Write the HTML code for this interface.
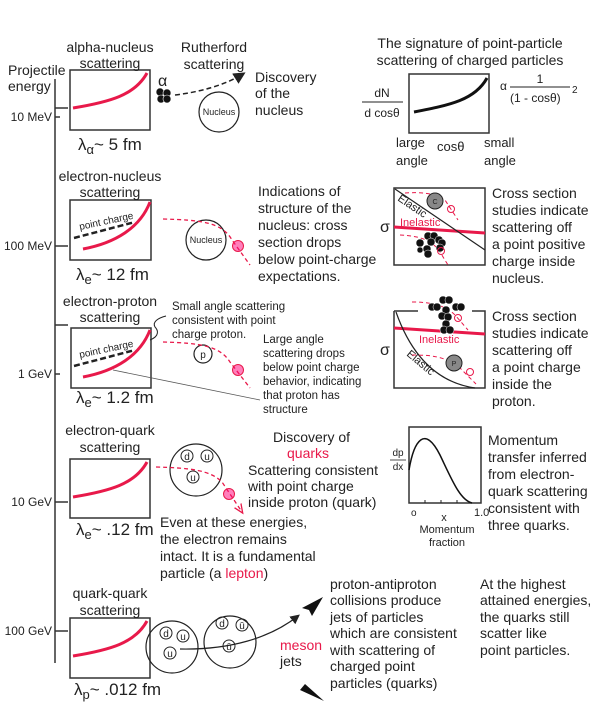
<!DOCTYPE html>
<html><head><meta charset="utf-8"><style>
html,body{margin:0;padding:0;background:#fff}
svg{display:block}
text{font-family:"Liberation Sans",sans-serif;fill:#222}
.t{font-size:14px}
.s{font-size:11.5px}
.r{fill:#e8194a}
</style></head><body>
<svg width="600" height="712" viewBox="0 0 600 712" xmlns="http://www.w3.org/2000/svg">
<defs>
<marker id="ah" markerWidth="8" markerHeight="8" refX="6" refY="4" orient="auto"><path d="M0,0 L8,4 L0,8 Z" fill="#222"/></marker>
<marker id="ahr" markerWidth="8" markerHeight="8" refX="6" refY="4" orient="auto"><path d="M0,1 L7,4 L0,7" fill="none" stroke="#e8194a"/></marker>
</defs>
<g stroke="#333" stroke-width="1.5" fill="none">
<line x1="55" y1="79" x2="55" y2="663"/>
<line x1="55" y1="108" x2="68" y2="108"/><line x1="55" y1="117" x2="60" y2="117"/>
<line x1="55" y1="246" x2="68" y2="246"/>
<line x1="55" y1="325" x2="68" y2="325"/><line x1="55" y1="374" x2="60" y2="374"/>
<line x1="55" y1="502" x2="68" y2="502"/>
<line x1="55" y1="631" x2="68" y2="631"/>
<rect x="70" y="70" width="80" height="60"/>
<rect x="70" y="200" width="81" height="60"/>
<rect x="71" y="328" width="80" height="60"/>
<rect x="70" y="459" width="80" height="59"/>
<rect x="70" y="618" width="80" height="60"/>
<rect x="409" y="74" width="80" height="59"/>
<rect x="394" y="188" width="91" height="77"/>
<path d="M394,311 V388 H485 V311 H472 M394,311 H418"/>
<rect x="409" y="427" width="72" height="76"/>
</g>
<text class="t" x="8" y="75">Projectile</text><text class="t" x="8" y="91">energy</text>
<g text-anchor="end"><text x="52" y="121" style="font-size:12px">10 MeV</text><text x="52" y="250" style="font-size:12px">100 MeV</text><text x="52" y="378" style="font-size:12px">1 GeV</text><text x="52" y="506" style="font-size:12px">10 GeV</text><text x="52" y="635" style="font-size:12px">100 GeV</text></g>
<g stroke="#e8194a" stroke-width="3" fill="none">
<path d="M73,108 C110,102 135,95 147,73"/>
<path d="M83,249 C115,243 140,228 150,202"/>
<path d="M83,377 C115,371 140,356 150,330"/>
<path d="M73,497 C110,491 135,484 147,462"/>
<path d="M73,656 C110,650 135,643 147,621"/>
<line x1="394" y1="227" x2="485" y2="233"/>
<line x1="394" y1="328" x2="485" y2="334"/>
</g>
<g stroke="#222" stroke-width="2.5" fill="none" stroke-dasharray="6,3">
<path d="M74,238 L135,222"/><path d="M74,366 L135,350"/>
</g>
<text x="80" y="230" transform="rotate(-12 80 230)" style="font-size:10px">point charge</text>
<text x="80" y="358" transform="rotate(-12 80 358)" style="font-size:10px">point charge</text>
<path d="M414,112 C450,105 475,100 487,78" stroke="#111" stroke-width="3" fill="none"/>
<g text-anchor="middle"><text x="110" y="52" class="t">alpha-nucleus</text><text x="110" y="68" class="t">scattering</text>
<text x="214" y="52" class="t">Rutherford</text><text x="214" y="69" class="t">scattering</text></g>
<text x="78" y="150" style="font-size:17px">λ<tspan dy="4" font-size="13">α</tspan><tspan dy="-4">~ 5 fm</tspan></text>
<text x="158" y="86" style="font-size:16px">α</text>
<g fill="#111" stroke="#fff" stroke-width="0.6"><circle cx="160" cy="92" r="4"/><circle cx="167" cy="93" r="4"/><circle cx="161" cy="99" r="4"/><circle cx="167" cy="99" r="4"/></g>
<path d="M175,95 C200,92 225,85 243,74" stroke="#222" stroke-width="1.5" stroke-dasharray="5,3" fill="none" marker-end="url(#ah)"/>
<circle cx="219" cy="112" r="20" stroke="#222" stroke-width="1.2" fill="none"/>
<text x="219" y="115" text-anchor="middle" style="font-size:9px">Nucleus</text>
<text class="t" x="255" y="82">Discovery</text><text class="t" x="255" y="98">of the</text><text class="t" x="255" y="115">nucleus</text>
<text class="t" x="470" y="48" text-anchor="middle">The signature of point-particle</text>
<text class="t" x="470" y="65" text-anchor="middle">scattering of charged particles</text>
<text x="382" y="97" text-anchor="middle" style="font-size:12px">dN</text>
<line x1="362" y1="102" x2="403" y2="102" stroke="#222"/>
<text x="382" y="117" text-anchor="middle" style="font-size:12px">d cosθ</text>
<text x="500" y="90" style="font-size:12px">α</text>
<text x="540" y="83" text-anchor="middle" style="font-size:12px">1</text>
<line x1="510" y1="87" x2="570" y2="87" stroke="#222"/>
<text x="510" y="102" style="font-size:12px">(1 - cosθ)</text><text x="572" y="93" style="font-size:10px">2</text>
<text x="396" y="147" style="font-size:13px">large</text><text x="396" y="165" style="font-size:13px">angle</text>
<text x="437" y="151" style="font-size:13px">cosθ</text>
<text x="484" y="147" style="font-size:13px">small</text><text x="484" y="165" style="font-size:13px">angle</text>
<text class="t" x="110" y="181" text-anchor="middle">electron-nucleus</text><text class="t" x="110" y="197" text-anchor="middle">scattering</text>
<text x="76" y="280" style="font-size:17px">λ<tspan dy="4" font-size="13">e</tspan><tspan dy="-4">~ 12 fm</tspan></text>
<circle cx="206" cy="240" r="20" stroke="#222" stroke-width="1.2" fill="none"/>
<text x="206" y="243" text-anchor="middle" style="font-size:9px">Nucleus</text>
<path d="M163,219 C200,220 222,222 232,240 L250,265" stroke="#e8194a" stroke-width="1.3" stroke-dasharray="4,3" fill="none"/>
<circle cx="238" cy="246" r="5.5" fill="#f07" fill-opacity="0.5" stroke="#e8194a"/>
<g><text class="t" x="258" y="196">Indications of</text><text class="t" x="258" y="213">structure of the</text><text class="t" x="258" y="230">nucleus: cross</text><text class="t" x="258" y="247">section drops</text><text class="t" x="258" y="264">below point-charge</text><text class="t" x="258" y="281">expectations.</text></g>
<line x1="395" y1="189" x2="485" y2="250" stroke="#222" stroke-width="1.2"/>
<text x="397" y="200" transform="rotate(34 397 200)" style="font-size:11px">Elastic</text>
<text x="400" y="226" class="r" style="font-size:11px">Inelastic</text>
<text x="380" y="232" style="font-size:16px">σ</text>
<path d="M405,193 C420,192 435,193 445,200 L458,220" stroke="#e8194a" stroke-dasharray="4,3" fill="none"/>
<circle cx="435" cy="201" r="8" fill="#888" stroke="#222"/><text x="435" y="204" text-anchor="middle" style="font-size:7px">C</text>
<circle cx="451" cy="209" r="3.5" fill="none" stroke="#e8194a"/>
<path d="M400,235 C420,236 432,240 440,252 L448,265" stroke="#e8194a" stroke-dasharray="4,3" fill="none"/>
<g fill="#111" stroke="#fff" stroke-width="0.5"><circle cx="428" cy="236" r="4"/><circle cx="434" cy="236" r="4"/><circle cx="439" cy="240" r="4"/><circle cx="442" cy="243" r="4"/><circle cx="420" cy="243" r="4"/><circle cx="431" cy="242" r="4"/><circle cx="427" cy="249" r="4"/><circle cx="428" cy="254" r="4"/><circle cx="420" cy="250" r="3"/><circle cx="440" cy="248" r="4"/></g>
<circle cx="441" cy="251" r="3.5" fill="none" stroke="#e8194a"/>
<g><text class="t" x="492" y="198">Cross section</text><text class="t" x="492" y="215">studies indicate</text><text class="t" x="492" y="232">scattering off</text><text class="t" x="492" y="249">a point positive</text><text class="t" x="492" y="266">charge inside</text><text class="t" x="492" y="283">nucleus.</text></g>
<text class="t" x="110" y="306" text-anchor="middle">electron-proton</text><text class="t" x="110" y="322" text-anchor="middle">scattering</text>
<text x="76" y="403" style="font-size:17px">λ<tspan dy="4" font-size="13">e</tspan><tspan dy="-4">~ 1.2 fm</tspan></text>
<path d="M150,340 C160,336 158,330 155,327 C152,322 158,318 166,316" stroke="#222" fill="none"/>
<text class="s" x="172" y="310">Small angle scattering</text><text class="s" x="172" y="324">consistent with point</text><text class="s" x="172" y="338">charge proton.</text>
<circle cx="203" cy="354" r="9" stroke="#222" stroke-width="1.2" fill="none"/><text x="203" y="358" text-anchor="middle" style="font-size:10px">p</text>
<path d="M163,342 C200,343 220,346 230,362 L250,388" stroke="#e8194a" stroke-width="1.3" stroke-dasharray="4,3" fill="none"/>
<circle cx="238" cy="370" r="5.5" fill="#f07" fill-opacity="0.5" stroke="#e8194a"/>
<line x1="113" y1="370" x2="260" y2="400" stroke="#555" stroke-width="0.8"/>
<text class="s" x="263" y="343">Large angle</text><text class="s" x="263" y="357">scattering drops</text><text class="s" x="263" y="371">below point charge</text><text class="s" x="263" y="385">behavior, indicating</text><text class="s" x="263" y="399">that proton has</text><text class="s" x="263" y="413">structure</text>
<path d="M396,312 Q420,380 475,388" stroke="#222" stroke-width="1.2" fill="none"/>
<text x="419" y="343" class="r" style="font-size:11px">Inelastic</text>
<text x="406" y="355" transform="rotate(40 406 355)" style="font-size:11px">Elastic</text>
<text x="380" y="355" style="font-size:16px">σ</text>
<path d="M412,355 C430,355 445,356 460,368 L476,384" stroke="#e8194a" stroke-dasharray="4,3" fill="none"/>
<circle cx="454" cy="363" r="8" fill="#888" stroke="#222"/><text x="454" y="366" text-anchor="middle" style="font-size:7px">P</text>
<circle cx="470" cy="372" r="3.5" fill="none" stroke="#e8194a"/>
<path d="M412,302 C430,302 445,305 455,315 L468,330" stroke="#e8194a" stroke-dasharray="4,3" fill="none"/>
<g fill="#111" stroke="#fff" stroke-width="0.5"><circle cx="443" cy="300" r="4"/><circle cx="449" cy="300" r="4"/><circle cx="432" cy="307" r="4"/><circle cx="437" cy="307" r="4"/><circle cx="456" cy="307" r="4"/><circle cx="461" cy="307" r="4"/><circle cx="446" cy="310" r="4"/><circle cx="442" cy="316" r="4"/><circle cx="448" cy="317" r="4"/><circle cx="446" cy="324" r="4"/><circle cx="444" cy="330" r="4"/><circle cx="450" cy="330" r="4"/></g>
<circle cx="458" cy="318" r="3.5" fill="none" stroke="#e8194a"/>
<g><text class="t" x="492" y="321">Cross section</text><text class="t" x="492" y="338">studies indicate</text><text class="t" x="492" y="355">scattering off</text><text class="t" x="492" y="372">a point charge</text><text class="t" x="492" y="389">inside the</text><text class="t" x="492" y="406">proton.</text></g>
<text class="t" x="110" y="435" text-anchor="middle">electron-quark</text><text class="t" x="110" y="452" text-anchor="middle">scattering</text>
<text x="76" y="535" style="font-size:17px">λ<tspan dy="4" font-size="13">e</tspan><tspan dy="-4">~ .12 fm</tspan></text>
<circle cx="196" cy="470" r="26" stroke="#222" stroke-width="1.2" fill="none"/>
<g stroke="#222" fill="none"><circle cx="187" cy="456" r="6"/><circle cx="207" cy="456" r="6"/><circle cx="193" cy="477" r="6"/></g>
<g text-anchor="middle"><text x="187" y="460" style="font-size:10px">d</text><text x="207" y="460" style="font-size:10px">u</text><text x="193" y="481" style="font-size:10px">u</text></g>
<path d="M156,467 C190,468 210,470 222,482 L242,512" stroke="#e8194a" stroke-width="1.3" stroke-dasharray="4,3" fill="none" marker-end="url(#ahr)"/>
<circle cx="229" cy="494" r="5.5" fill="#f07" fill-opacity="0.5" stroke="#e8194a"/>
<text class="t" x="273" y="442">Discovery of</text><text class="t" x="287" y="458" style="fill:#e8194a">quarks</text>
<text class="t" x="248" y="475">Scattering consistent</text><text class="t" x="248" y="491">with point charge</text><text class="t" x="248" y="507">inside proton (quark)</text>
<text class="t" x="160" y="527">Even at these energies,</text><text class="t" x="160" y="544">the electron remains</text><text class="t" x="160" y="561">intact. It is a fundamental</text><text class="t" x="160" y="578">particle (a <tspan style="fill:#e8194a">lepton</tspan>)</text>
<path d="M409,470 C414,440 425,425 440,455 C452,480 460,500 472,503" stroke="#111" stroke-width="1.5" fill="none"/>
<g stroke="#222"><line x1="425" y1="503" x2="425" y2="500"/><line x1="441" y1="503" x2="441" y2="500"/><line x1="457" y1="503" x2="457" y2="500"/></g>
<text x="398" y="456" text-anchor="middle" style="font-size:10px">dp</text><line x1="390" y1="460" x2="406" y2="460" stroke="#222" stroke-width="0.8"/><text x="398" y="470" text-anchor="middle" style="font-size:10px">dx</text>
<text x="411" y="516" style="font-size:10px">o</text><text x="474" y="516" style="font-size:11px">1.0</text>
<text x="444" y="521" text-anchor="middle" style="font-size:11px">x</text>
<text x="447" y="533" text-anchor="middle" style="font-size:11px">Momentum</text><text x="447" y="546" text-anchor="middle" style="font-size:11px">fraction</text>
<g><text class="t" x="488" y="445">Momentum</text><text class="t" x="488" y="462">transfer inferred</text><text class="t" x="488" y="479">from electron-</text><text class="t" x="488" y="496">quark scattering</text><text class="t" x="488" y="513">consistent with</text><text class="t" x="488" y="530">three quarks.</text></g>
<text class="t" x="110" y="598" text-anchor="middle">quark-quark</text><text class="t" x="110" y="615" text-anchor="middle">scattering</text>
<text x="74" y="695" style="font-size:17px">λ<tspan dy="4" font-size="13">p</tspan><tspan dy="-4">~ .012 fm</tspan></text>
<circle cx="172" cy="647" r="26" stroke="#222" stroke-width="1.2" fill="none"/>
<circle cx="230" cy="642" r="26" stroke="#222" stroke-width="1.2" fill="none"/>
<g stroke="#222" fill="none"><circle cx="166" cy="633" r="6"/><circle cx="183" cy="636" r="6"/><circle cx="170" cy="653" r="6"/><circle cx="222" cy="623" r="6"/><circle cx="242" cy="625" r="6"/><circle cx="229" cy="646" r="6"/></g>
<g text-anchor="middle"><text x="166" y="637" style="font-size:10px">d</text><text x="183" y="640" style="font-size:10px">u</text><text x="170" y="657" style="font-size:10px">u</text><text x="222" y="627" style="font-size:10px">d</text><text x="242" y="629" style="font-size:10px">ū</text><text x="229" y="650" style="font-size:10px">ū</text></g>
<path d="M180,649 C230,650 270,638 298,616" stroke="#222" stroke-width="1.2" fill="none" marker-end="url(#ah)"/>
<path d="M302,608 L323,597 L312,616 L309,610 Z" fill="#111"/>
<path d="M300,690 L305,684 L324,701 Z" fill="#111"/>
<text class="t" x="280" y="650" style="fill:#e8194a">meson</text><text class="t" x="280" y="666">jets</text>
<g><text class="t" x="330" y="589">proton-antiproton</text><text class="t" x="330" y="605">collisions produce</text><text class="t" x="330" y="622">jets of particles</text><text class="t" x="330" y="638">which are consistent</text><text class="t" x="330" y="655">with scattering of</text><text class="t" x="330" y="671">charged point</text><text class="t" x="330" y="688">particles (quarks)</text></g>
<g><text class="t" x="480" y="589">At the highest</text><text class="t" x="480" y="605">attained energies,</text><text class="t" x="480" y="622">the quarks still</text><text class="t" x="480" y="638">scatter like</text><text class="t" x="480" y="655">point particles.</text></g>
</svg>
</body></html>
